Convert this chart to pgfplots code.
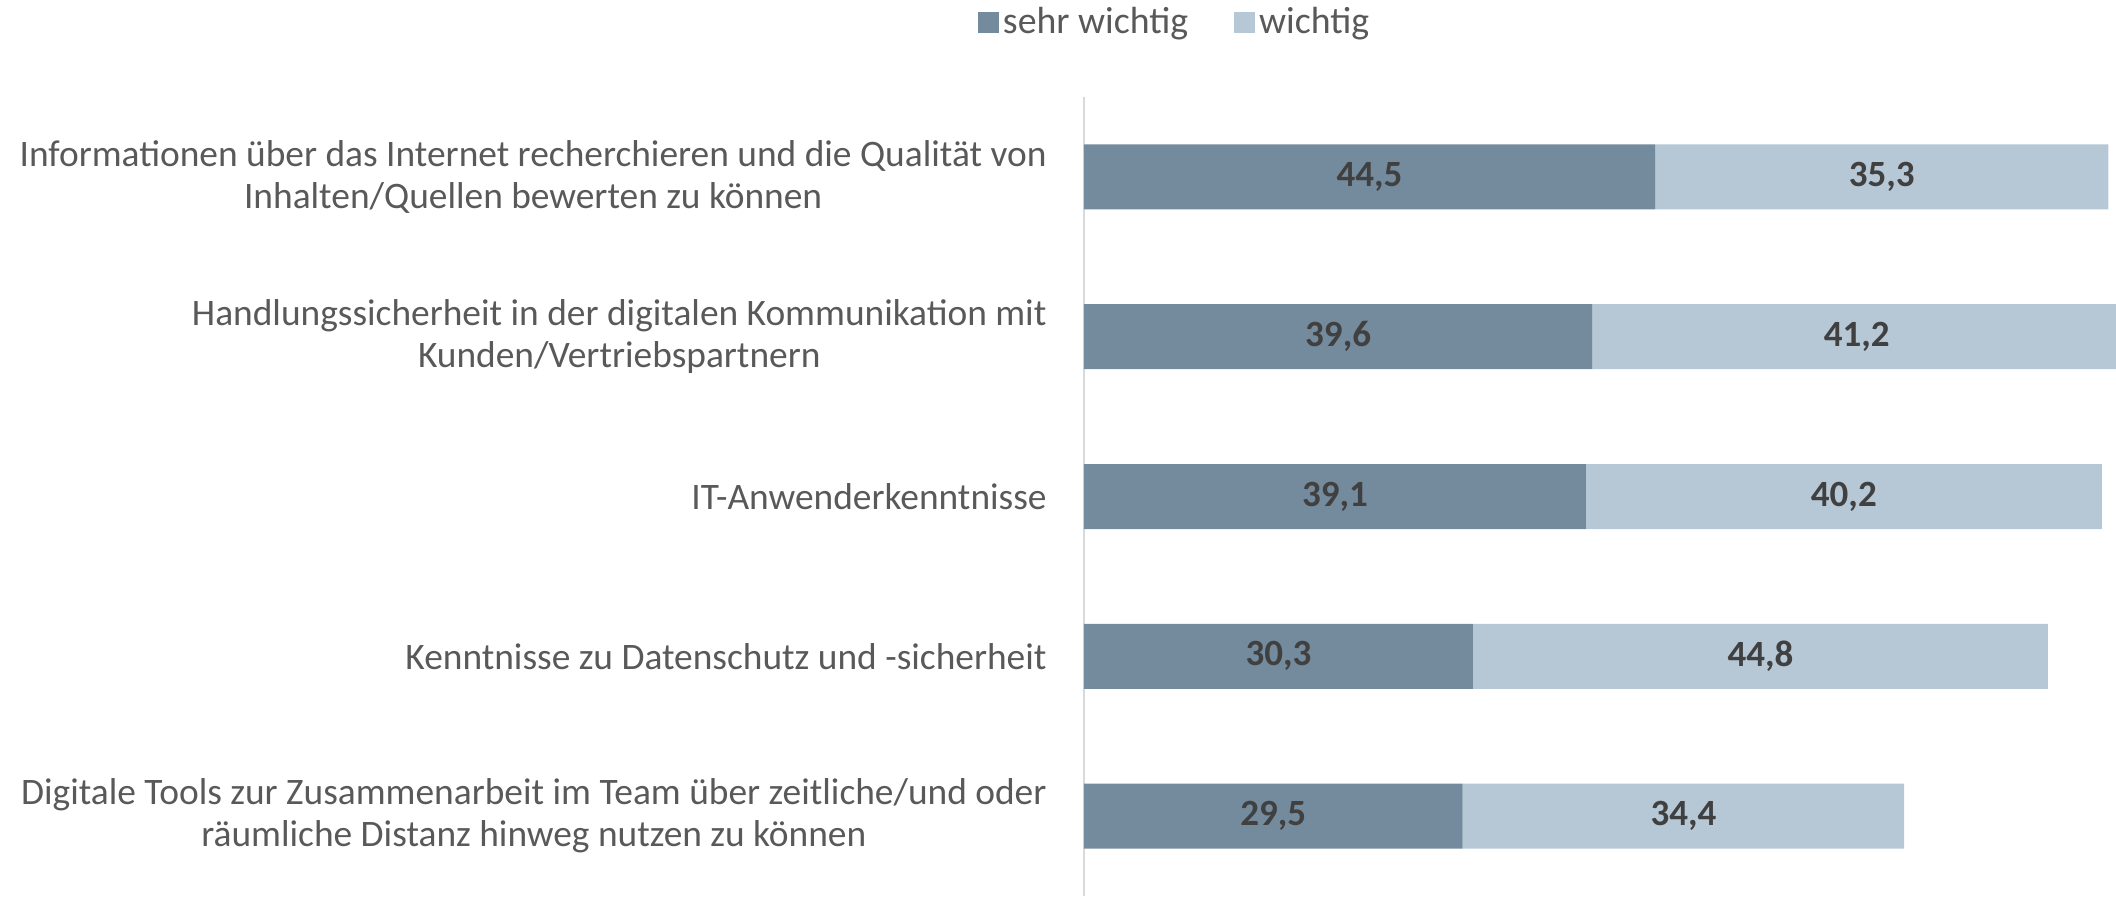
\documentclass[border=0pt]{standalone}
\usepackage{fontspec}
\setmainfont{Carlito}
\usepackage{pgfplots}
\pgfplotsset{compat=1.18}
\definecolor{dunkel}{HTML}{748A9D}
\definecolor{hell}{HTML}{B6C7D5}
\definecolor{txt}{HTML}{595959}
\definecolor{zahl}{HTML}{404040}
\tikzset{wert/.style={font=\bfseries\fontsize{18.5}{20}\selectfont, text=zahl}}
\pgfplotsset{quadrat/.style={legend image code/.code={\fill[##1] (-2.5pt,-5.25pt) rectangle (8pt,5.25pt);}}}
\begin{document}
\begin{tikzpicture}
\begin{axis}[
    at={(0,0)}, anchor=south west,
    scale only axis,
    width=516pt, height=399.5pt,
    xbar stacked,
    bar width=32.5pt,
    xmin=0, xmax=80.4,
    ymin=-0.5, ymax=4.5,
    y dir=reverse,
    axis x line=none,
    axis y line*=left,
    y axis line style={-, draw=black!15, line width=0.8pt},
    ytick={0,1,2,3,4},
    yticklabels={
        {Informationen über das Internet recherchieren und die Qualität von\\Inhalten/Quellen bewerten zu können},
        {Handlungssicherheit in der digitalen Kommunikation mit\\Kunden/Vertriebspartnern},
        {IT-Anwenderkenntnisse},
        {Kenntnisse zu Datenschutz und -sicherheit},
        {Digitale Tools zur Zusammenarbeit im Team über zeitliche/und oder\\räumliche Distanz hinweg nutzen zu können}
    },
    major tick length=0pt,
    yticklabel style={align=center, anchor=east, inner sep=0pt, xshift=-18.5pt,
        font=\fontsize{18.7}{21}\selectfont, text=txt},
    legend columns=2,
    legend style={draw=none, at={(0.0888,1)}, anchor=center, yshift=37.5pt,
        font=\fontsize{18.9}{20}\selectfont, text=txt,
        /tikz/every even column/.append style={column sep=21pt}},
    quadrat,
    % Datenbeschriftungen in der Mitte der Segmente
    after end axis/.code={
        \node[wert] at (axis cs:22.25,0) {44,5};
        \node[wert] at (axis cs:62.15,0) {35,3};
        \node[wert] at (axis cs:19.8,1) {39,6};
        \node[wert] at (axis cs:60.2,1) {41,2};
        \node[wert] at (axis cs:19.55,2) {39,1};
        \node[wert] at (axis cs:59.2,2) {40,2};
        \node[wert] at (axis cs:15.15,3) {30,3};
        \node[wert] at (axis cs:52.7,3) {44,8};
        \node[wert] at (axis cs:14.75,4) {29,5};
        \node[wert] at (axis cs:46.7,4) {34,4};
    },
]
% sehr wichtig
\addplot[fill=dunkel, draw=none] coordinates {
    (44.5,0) (39.6,1) (39.1,2) (30.3,3) (29.5,4)
};
\addlegendentry{sehr wichtig}
% wichtig
\addplot[fill=hell, draw=none] coordinates {
    (35.3,0) (41.2,1) (40.2,2) (44.8,3) (34.4,4)
};
\addlegendentry{wichtig}
\end{axis}
\pgfresetboundingbox
\useasboundingbox (-542pt,0) rectangle (516pt,448pt);
\end{tikzpicture}
\end{document}
